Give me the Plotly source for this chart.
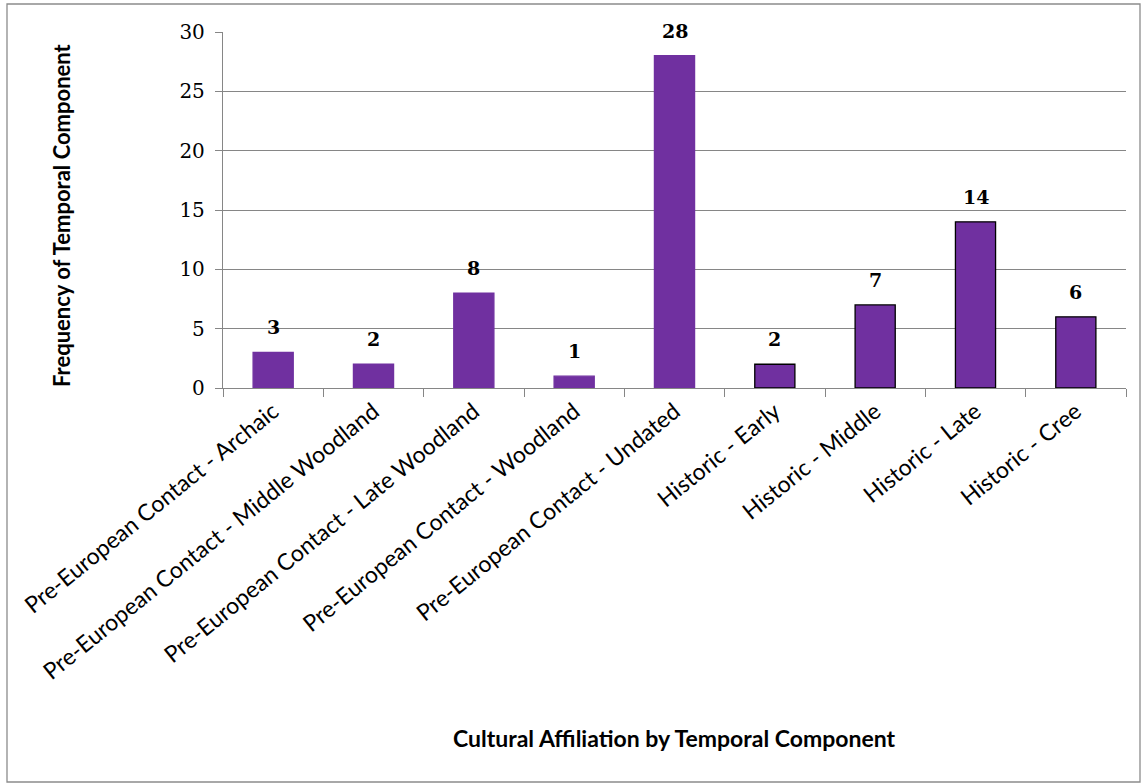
import plotly.graph_objects as go

categories = [
    "Pre-European Contact - Archaic",
    "Pre-European Contact - Middle Woodland",
    "Pre-European Contact - Late Woodland",
    "Pre-European Contact - Woodland",
    "Pre-European Contact - Undated",
    "Historic - Early",
    "Historic - Middle",
    "Historic - Late",
    "Historic - Cree",
]
frequency = [3, 2, 8, 1, 28, 2, 7, 14, 6]
y_ticks = [0, 5, 10, 15, 20, 25, 30]

outline = ["#7030A0"] * 5 + ["#000000"] * 4

fig = go.Figure(go.Bar(
    x=categories, y=frequency,
    marker=dict(color="#7030A0", line=dict(color=outline, width=1.3)),
    width=0.4,
))

W, H = 1145, 784
L, R, T, B = 223, 19, 32, 396
pw, ph = W - L - R, H - T - B

def px(x):
    return (x - L) / pw

def py(y):
    return (H - B - y) / ph

annotations = [
    dict(text="<b>Frequency of Temporal Component</b>", xref="paper", yref="paper",
         x=px(61), y=py(215), xanchor="center", yanchor="middle",
         textangle=-90, showarrow=False,
         font=dict(family="Lato", size=22)),
    dict(text="<b>Cultural Affiliation by Temporal Component</b>", xref="paper", yref="paper",
         x=px(674), y=py(738), xanchor="center", yanchor="middle", showarrow=False,
         font=dict(family="Lato", size=23)),
]
for c, v in zip(categories, frequency):
    annotations.append(dict(
        x=c, y=v, xref="x", yref="y", text=f"<b>{v}</b>", showarrow=False,
        yanchor="middle", yshift=25,
        font=dict(family="DejaVu Serif", size=19, color="#000000"),
    ))

fig.update_layout(
    width=W, height=H,
    margin=dict(l=L, r=R, t=T, b=B),
    paper_bgcolor="white", plot_bgcolor="white",
    showlegend=False,
    font=dict(family="Lato", color="#000000"),
    xaxis=dict(
        type="category", tickangle=-39,
        tickfont=dict(family="Lato", size=23),
        showline=True, linecolor="#868686", linewidth=1.3,
        ticks="outside", tickson="boundaries", ticklen=8, tickcolor="#868686",
        showgrid=False,
    ),
    yaxis=dict(
        range=[0, 30], tickvals=y_ticks,
        tickfont=dict(family="DejaVu Serif", size=20),
        showline=True, linecolor="#868686", linewidth=1.3,
        ticks="outside", ticklen=7, tickcolor="#868686", ticklabelstandoff=6,
        showgrid=True, gridcolor="#868686", gridwidth=1,
        zeroline=False,
    ),
    shapes=[dict(type="rect", xref="paper", yref="paper",
                 x0=px(7), x1=px(1140), y0=py(782), y1=py(4),
                 line=dict(color="#8c8c8c", width=1.3), fillcolor="rgba(0,0,0,0)")],
    annotations=annotations,
)

fig.write_html("out.html", config={"displayModeBar": False},
               post_script="document.body.style.margin='0';")
